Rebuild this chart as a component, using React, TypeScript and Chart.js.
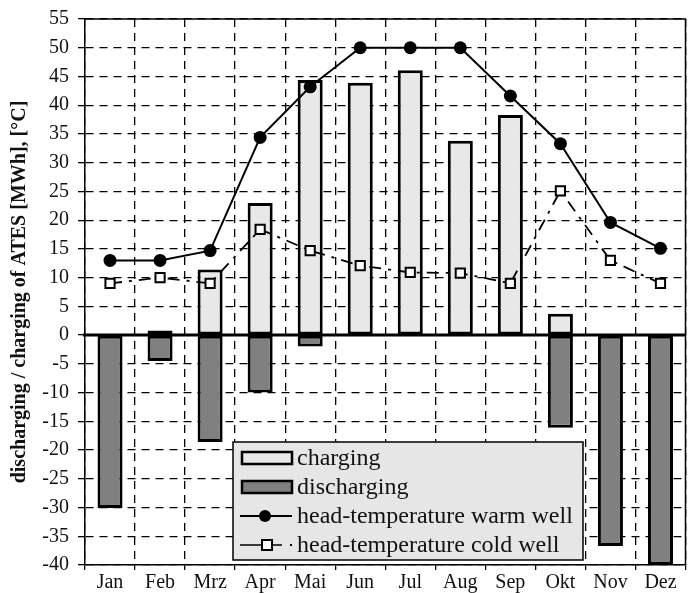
import React, { useEffect, useRef } from "react";
import { Chart, registerables } from "chart.js";

Chart.register(...registerables);

const months = ["Jan", "Feb", "Mrz", "Apr", "Mai", "Jun", "Jul", "Aug", "Sep", "Okt", "Nov", "Dez"];
const charging = [0, 0.8, 11.4, 23.0, 44.4, 43.9, 46.1, 33.8, 38.3, 3.7, 0, 0];
const discharging = [-30.1, -4.5, -18.6, -10.0, -2.0, 0, 0, 0, 0, -16.1, -36.7, -40.0];
const warmWell = [13.0, 13.0, 14.7, 34.4, 43.2, 50.0, 50.0, 50.0, 41.6, 33.3, 19.6, 15.1];
const coldWell = [9.0, 10.0, 9.0, 18.4, 14.7, 12.1, 10.9, 10.8, 9.0, 25.1, 13.0, 9.0];
const yMin = -40;
const yMax = 55;
const yStep = 5;
const yTitle = "discharging / charging of ATES [MWh], [°C]";
const legendLabels = [
  "charging",
  "discharging",
  "head-temperature warm well",
  "head-temperature cold well",
];

const SERIF = "'Liberation Serif', 'Times New Roman', serif";

const framePlugin = {
  id: "frame",
  beforeDatasetsDraw(chart: any) {
    const { ctx, chartArea } = chart;
    ctx.save();
    ctx.strokeStyle = "#000";
    ctx.setLineDash([]);
    ctx.lineWidth = 1.5;
    ctx.beginPath();
    ctx.moveTo(chartArea.left, chartArea.top);
    ctx.lineTo(chartArea.right, chartArea.top);
    ctx.lineTo(chartArea.right, chartArea.bottom);
    ctx.stroke();
    ctx.restore();
  },
  afterDatasetsDraw(chart: any) {
    const { ctx, chartArea, scales } = chart;
    const y0 = scales.y.getPixelForValue(0);
    ctx.save();
    ctx.strokeStyle = "#000";
    ctx.setLineDash([]);
    ctx.lineWidth = 3;
    ctx.beginPath();
    ctx.moveTo(chartArea.left - 2, y0);
    ctx.lineTo(chartArea.right, y0);
    ctx.stroke();
    ctx.restore();
  },
  afterDraw(chart: any) {
    const { ctx } = chart;
    const bx = 233, by = 442, bw = 350, bh = 118;
    ctx.save();
    ctx.setLineDash([]);
    ctx.fillStyle = "#e6e6e6";
    ctx.fillRect(bx, by, bw, bh);
    ctx.strokeStyle = "#000";
    ctx.lineWidth = 1.5;
    ctx.strokeRect(bx, by, bw, bh);
    const rowH = 29;
    const symL = bx + 9, symR = bx + 59;
    const textX = bx + 64;
    ctx.font = `24px ${SERIF}`;
    ctx.textBaseline = "middle";
    legendLabels.forEach((label, i) => {
      const cy = by + 16 + i * rowH;
      if (i === 0 || i === 1) {
        ctx.fillStyle = i === 0 ? "#e8e8e8" : "#808080";
        ctx.fillRect(symL, cy - 6, symR - symL, 12);
        ctx.lineWidth = 2.5;
        ctx.strokeStyle = "#000";
        ctx.strokeRect(symL, cy - 6, symR - symL, 12);
      } else if (i === 2) {
        ctx.lineWidth = 2;
        ctx.strokeStyle = "#000";
        ctx.beginPath();
        ctx.moveTo(symL - 2, cy);
        ctx.lineTo(symR, cy);
        ctx.stroke();
        ctx.fillStyle = "#000";
        ctx.beginPath();
        ctx.arc((symL + symR) / 2 - 2, cy, 6, 0, Math.PI * 2);
        ctx.fill();
      } else {
        ctx.lineWidth = 1.5;
        ctx.strokeStyle = "#000";
        ctx.beginPath();
        ctx.moveTo(symL - 2, cy);
        ctx.lineTo(symR - 10, cy);
        ctx.stroke();
        ctx.fillStyle = "#000";
        ctx.fillRect(symR - 2, cy - 1, 2, 2);
        ctx.fillStyle = "#fff";
        ctx.fillRect(symL + 20, cy - 5, 10, 10);
        ctx.lineWidth = 2;
        ctx.strokeRect(symL + 20, cy - 5, 10, 10);
      }
      ctx.fillStyle = "#111";
      ctx.textAlign = "left";
      ctx.fillText(label, textX, cy + 1);
    });
    ctx.restore();
  },
};

export default function App() {
  const canvasRef = useRef<HTMLCanvasElement | null>(null);

  useEffect(() => {
    document.body.style.margin = "0";
    const canvas = canvasRef.current;
    if (!canvas) return;
    const chart = new Chart(canvas, {
      type: "bar",
      data: {
        labels: months,
        datasets: [
          {
            type: "line",
            label: legendLabels[2],
            data: warmWell,
            borderColor: "#000",
            backgroundColor: "#000",
            borderWidth: 2,
            pointRadius: 6.5,
            pointBackgroundColor: "#000",
            pointBorderColor: "#000",
            pointBorderWidth: 0,
            tension: 0,
            order: 0,
          } as any,
          {
            type: "line",
            label: legendLabels[3],
            data: coldWell,
            borderColor: "#000",
            borderWidth: 1.8,
            borderDash: [12, 7, 3, 7],
            pointStyle: "rect",
            pointRadius: 6.5,
            pointBackgroundColor: "#fff",
            pointBorderColor: "#000",
            pointBorderWidth: 2,
            tension: 0,
            order: 0,
          } as any,
          {
            type: "bar",
            label: legendLabels[0],
            data: charging,
            backgroundColor: "#e8e8e8",
            borderColor: "#000",
            borderWidth: 3,
            borderSkipped: false,
            grouped: false,
            barPercentage: 0.5,
            categoryPercentage: 1,
            order: 1,
          } as any,
          {
            type: "bar",
            label: legendLabels[1],
            data: discharging,
            backgroundColor: "#808080",
            borderColor: "#000",
            borderWidth: 3,
            borderSkipped: false,
            grouped: false,
            barPercentage: 0.5,
            categoryPercentage: 1,
            order: 1,
          } as any,
        ],
      },
      plugins: [framePlugin],
      options: {
        responsive: false,
        animation: false,
        layout: { padding: { top: 17, right: 6, left: 0, bottom: 0 } },
        plugins: {
          legend: { display: false },
          tooltip: { enabled: false },
        },
        scales: {
          x: {
            offset: true,
            grid: {
              offset: true,
              color: "#000",
              lineWidth: 1.3,
              drawTicks: true,
              tickLength: 5,
            },
            border: { display: true, color: "#000", width: 1.5, dash: [8, 6] },
            ticks: {
              color: "#111",
              font: { family: SERIF, size: 20 },
              padding: 1,
            },
            afterFit: (s: any) => {
              s.height = 28;
            },
          } as any,
          y: {
            min: yMin,
            max: yMax,
            ticks: {
              stepSize: yStep,
              color: "#111",
              font: { family: SERIF, size: 20, lineHeight: 1 },
              padding: 9,
            },
            grid: {
              color: "#000",
              lineWidth: 1.3,
              tickLength: 7,
            },
            border: { display: true, color: "#000", width: 1.5, dash: [8, 6] },
            title: {
              display: true,
              text: yTitle,
              color: "#111",
              font: { family: SERIF, size: 20, weight: "bold" },
              padding: { top: 8, bottom: 4 },
            },
            afterFit: (s: any) => {
              s.width = 85;
            },
          } as any,
        },
      },
    });
    return () => chart.destroy();
  }, []);

  return (
    <div style={{ width: 694, height: 593, background: "#fff" }}>
      <canvas ref={canvasRef} width={694} height={593} />
    </div>
  );
}
